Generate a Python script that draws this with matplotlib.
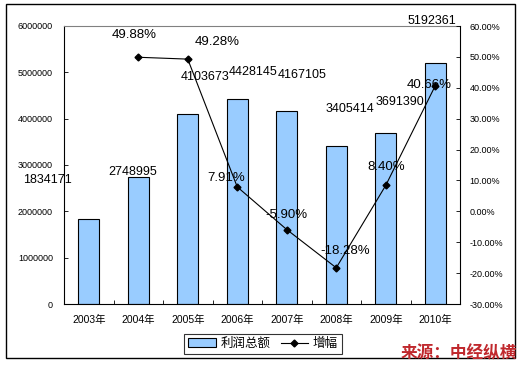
import matplotlib
matplotlib.use("Agg")
import matplotlib.pyplot as plt
from matplotlib.patches import Rectangle
from matplotlib.lines import Line2D
import numpy as np

years = ["2003年", "2004年", "2005年", "2006年", "2007年", "2008年", "2009年", "2010年"]
profit = [1834171, 2748995, 4103673, 4428145, 4167105, 3405414, 3691390, 5192361]
growth = [None, 49.88, 49.28, 7.91, -5.90, -18.28, 8.40, 40.66]
growth_labels = ["", "49.88%", "49.28%", "7.91%", "-5.90%", "-18.28%", "8.40%", "40.66%"]
left_ticks = [0, 1000000, 2000000, 3000000, 4000000, 5000000, 6000000]
right_ticks = [-30, -20, -10, 0, 10, 20, 30, 40, 50, 60]

# label offsets in pixels (manually placed labels in the original)
bar_off = [(-41, 39), (-6, 5), (17, 37), (16, 27), (15, 36), (14, 37), (14, 31), (-3, 42)]
pct_off = [(0, 0), (-4, 22), (29, 17), (-11, 9), (0, 15), (9, 17), (0, 18), (-6, 1)]

FONT = ["Liberation Sans", "Noto Sans CJK SC"]
plt.rcParams["font.family"] = FONT

W, H = 522, 365
fig = plt.figure(figsize=(W / 100, H / 100), dpi=100)
ax = fig.add_axes([64 / W, 1 - 304 / H, (460 - 64) / W, (304 - 26) / H])

x = np.arange(len(years))
ax.bar(x, profit, width=0.42, color="#99CCFF", edgecolor="black", linewidth=0.8, zorder=2)
ax.set_xlim(-0.5, len(years) - 0.5)
ax.set_ylim(0, 6000000)
ax.set_yticks(left_ticks)
ax.set_yticklabels([str(v) for v in left_ticks], fontsize=6.5)
ax.set_xticks(x)
ax.set_xticklabels(years, fontsize=7.5)
ax.set_xticks(np.arange(-0.5, len(years)), minor=True)
ax.tick_params(axis="x", which="major", length=0, pad=8)
ax.tick_params(axis="x", which="minor", direction="in", length=3, width=0.6)
ax.tick_params(axis="y", direction="in", length=3, width=0.6, pad=8)
for s in ["left", "bottom"]:
    ax.spines[s].set_linewidth(0.8)
ax.spines["top"].set_color("#808080")
ax.spines["right"].set_visible(False)

for i, v in enumerate(profit):
    dx, dy = bar_off[i]
    ax.annotate(str(v), (x[i], v), xytext=(dx, dy), textcoords="offset pixels",
                ha="center", va="center", fontsize=9, color="black", zorder=5)

ax2 = ax.twinx()
gx = [xi for xi, g in zip(x, growth) if g is not None]
gy = [g for g in growth if g is not None]
ax2.plot(gx, gy, color="black", linewidth=0.8, marker="D", markersize=3.5, zorder=3)
ax2.set_ylim(-30, 60)
ax2.set_yticks(right_ticks)
ax2.set_yticklabels([f"{v:.2f}%" for v in right_ticks], fontsize=6.5)
ax2.tick_params(axis="y", direction="in", length=3, width=0.6, pad=7)
ax2.spines["right"].set_linewidth(0.8)
for s in ["left", "bottom", "top"]:
    ax2.spines[s].set_visible(False)

for i, g in enumerate(growth):
    if g is None:
        continue
    dx, dy = pct_off[i]
    ax2.annotate(growth_labels[i], (x[i], g), xytext=(dx, dy), textcoords="offset pixels",
                 ha="center", va="center", fontsize=9.5, color="black", zorder=5)

handles = [Rectangle((0, 0), 1, 1, facecolor="#99CCFF", edgecolor="black", linewidth=0.8),
           Line2D([], [], color="black", linewidth=0.8, marker="D", markersize=3.5)]
leg = fig.legend(handles, ["利润总额", "增幅"], loc="center",
                 bbox_to_anchor=((186 + 340) / 2 / W, 1 - 344 / H), ncol=2,
                 frameon=True, fancybox=False, edgecolor="black",
                 handlelength=2.2, handletextpad=0.4, columnspacing=0.8,
                 borderpad=0.3, prop={"family": FONT, "size": 9})
leg.get_frame().set_linewidth(0.8)

fig.patches.append(Rectangle((6 / W, 1 - 358 / H), (515 - 6) / W, (358 - 4) / H,
                             transform=fig.transFigure, fill=False, edgecolor="black",
                             linewidth=1.0))

fig.text(517 / W, 1 - 353 / H, "来源：中经纵横", ha="right", va="center", fontsize=12,
         color="#C0282D", fontweight="bold", family=["Noto Sans CJK SC"])

fig.savefig("out.png", dpi=100)
